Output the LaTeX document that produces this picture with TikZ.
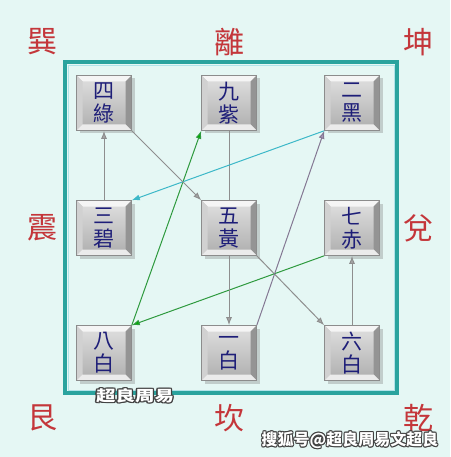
\documentclass[tikz,border=0pt]{standalone}
\usepackage{fontspec}
\newfontfamily\cjk{Noto Sans CJK TC}
\usetikzlibrary{arrows.meta,shadows,calc}
\definecolor{bgc}{HTML}{E5F7F4}
\definecolor{framec}{HTML}{2AA39E}
\definecolor{redc}{HTML}{C4363A}
\definecolor{navyc}{HTML}{1E1E78}
\definecolor{linec}{HTML}{8E8E8E}
\definecolor{greenc}{HTML}{2E9A3E}
\definecolor{cyanc}{HTML}{3CB8C8}
\definecolor{lilac}{HTML}{A596B8}
\def\pb{path picture bounding box}
\tikzset{
  pbox/.style={rectangle, minimum width=55pt, minimum height=55pt, inner sep=0pt,
    draw=black!45, line width=0.6pt, fill=black!22,
    drop shadow={opacity=0.35, shadow xshift=3pt, shadow yshift=-3pt},
    font=\cjk\fontsize{21}{23}\selectfont, text=navyc, align=center,
    path picture={
      \shade[top color=black!12, bottom color=black!32]
        ($(\pb.north west)+(6pt,-6pt)$) rectangle ($(\pb.south east)+(-6pt,6pt)$);
      \fill[black!4] (\pb.north west) -- (\pb.north east) -- ($(\pb.north east)+(-6pt,-6pt)$) -- ($(\pb.north west)+(6pt,-6pt)$) -- cycle;
      \fill[black!18] (\pb.north west) -- (\pb.south west) -- ($(\pb.south west)+(6pt,6pt)$) -- ($(\pb.north west)+(6pt,-6pt)$) -- cycle;
      \fill[black!42] (\pb.north east) -- (\pb.south east) -- ($(\pb.south east)+(-6pt,6pt)$) -- ($(\pb.north east)+(-6pt,-6pt)$) -- cycle;
      \fill[black!8] (\pb.south west) -- (\pb.south east) -- ($(\pb.south east)+(-6pt,6pt)$) -- ($(\pb.south west)+(6pt,6pt)$) -- cycle;
    }},
  gua/.style={font=\cjk\fontsize{30}{30}\selectfont, text=redc},
  flow/.style={draw=linec, line width=1pt},
  tip/.style={-{Latex[length=8pt,width=6pt,fill=black!35]}},
  wm/.style={font=\cjk\bfseries\fontsize{#1}{#1}\selectfont},
}
\newcommand\wmark[4]{%
  \foreach \dx/\dy in {-1/0,1/0,0/-1,0/1,-0.8/-0.8,0.8/0.8,-0.8/0.8,0.8/-0.8}
    \node[wm=#3, text=black!75, xscale=#4, xshift=\dx pt, yshift=\dy pt] at (#1) {#2};
  \node[wm=#3, text=white, xscale=#4] at (#1) {#2};}
\begin{document}
\begin{tikzpicture}[x=1pt,y=-1pt]
\fill[bgc] (0,0) rectangle (450,457);
\useasboundingbox (0,0) rectangle (450,457);
% frame
\draw[framec, line width=3.5pt] (65,62) rectangle (397,393);
\draw[cyanc!40, line width=0.8pt] (68,65) rectangle (394,390);
% trigram labels
\node[gua] (xun) at (42,42) {巽};
\node[gua] (li) at (229,42) {離};
\node[gua] (kun) at (418,42) {坤};
\node[gua] (zhen) at (42,228) {震};
\node[gua] (dui) at (418,228) {兌};
\node[gua] (gen) at (42,418) {艮};
\node[gua] (kan) at (229,418) {坎};
\node[gua] (qian) at (418,418) {乾};
% boxes
\node[pbox] (n4) at (104,103) {四\\綠};
\node[pbox] (n9) at (229,103) {九\\紫};
\node[pbox] (n2) at (352,103) {二\\黑};
\node[pbox] (n3) at (104,228) {三\\碧};
\node[pbox] (n5) at (229,228) {五\\黃};
\node[pbox] (n7) at (352,228) {七\\赤};
\node[pbox] (n8) at (104,353) {八\\白};
\node[pbox] (n1) at (229,353) {一\\白};
\node[pbox] (n6) at (352,353) {六\\白};
% flight path
\draw[flow,tip] (n5.south east) -- (n6.north west);
\draw[flow,tip] (n6.north) -- (n7.south);
\draw[flow,draw=greenc,-{Latex[length=8pt,width=6pt,fill=green!70!black]}] (n7.south west) -- (n8.north east);
\draw[flow,draw=greenc,-{Latex[length=8pt,width=6pt,fill=green!70!black]}] (n8.north east) -- (n9.south west);
\draw[flow] (n9.south) -- (n5.north);
\draw[flow,tip] (n5.south) -- (n1.north);
\draw[flow,draw=lilac!80!black,-{Latex[length=8pt,width=6pt,fill=lilac]}] (n1.north east) -- (n2.south west);
\draw[flow,draw=cyanc,-{Latex[length=8pt,width=6pt]}] (n2.south west) -- (n3.north east);
\draw[flow,tip] (n3.north) -- (n4.south);
\draw[flow,tip] (n4.south east) -- (n5.north west);
% watermarks
\wmark{135,396}{超良周易}{15}{1.3}
\wmark{350,440}{搜狐号@超良周易文超良}{16}{1}
\end{tikzpicture}
\end{document}
